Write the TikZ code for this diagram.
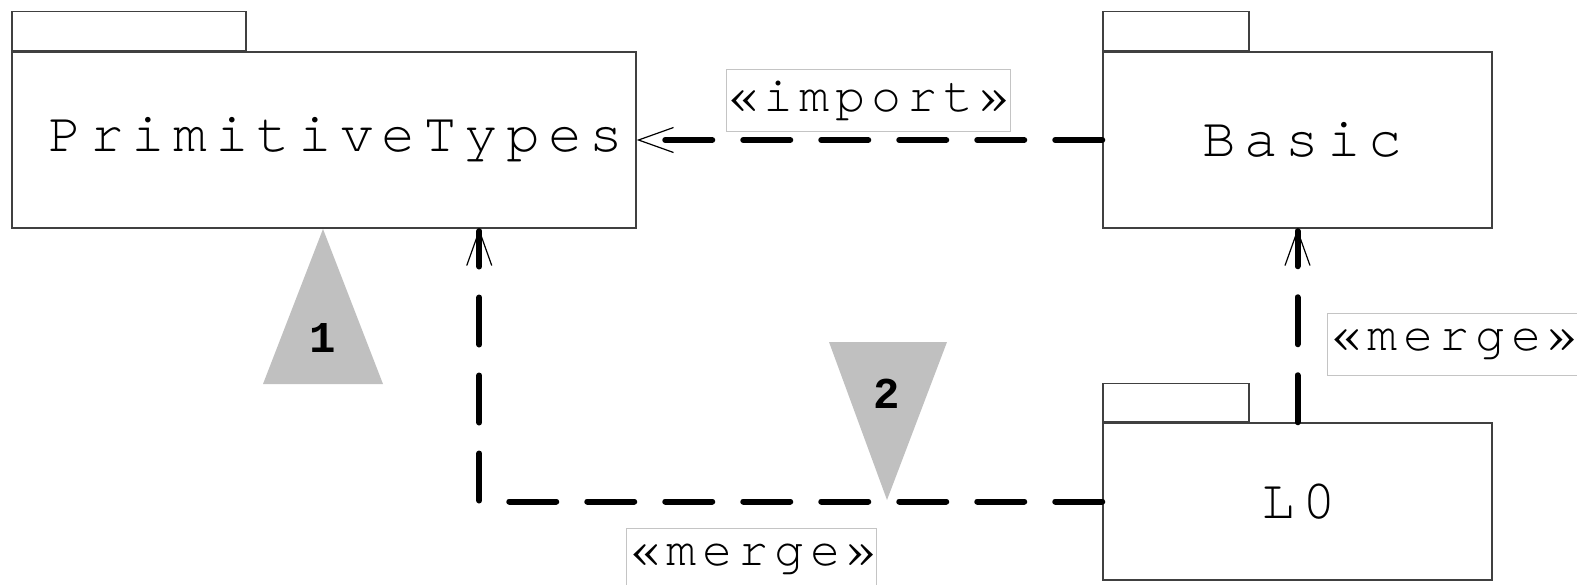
\documentclass[tikz,border=0pt]{standalone}
\usepackage{fontspec}
\usetikzlibrary{arrows.meta,calc}
\newfontfamily\numfont{Liberation Mono}
\newfontfamily\pkgfontfam{texgyrecursor-regular.otf}[LetterSpace=14.3]
\newfontfamily\lblfontfam{texgyrecursor-regular.otf}[LetterSpace=12]
\newcommand\pkgfnt{\pkgfontfam\fontsize{56}{62}\selectfont}
\newcommand\lblfnt{\lblfontfam\fontsize{50}{56}\selectfont}
\definecolor{boxline}{HTML}{404040}
\definecolor{lblline}{HTML}{C4C4C4}
\definecolor{trigray}{HTML}{C0C0C0}
\tikzset{
  pkgbody/.style={draw=boxline, line width=1.5pt, fill=white, inner sep=0pt,
    font=\pkgfnt},
  pkgtab/.style={draw=boxline, line width=1.5pt, fill=white, inner sep=0pt,
    anchor=south west, minimum height=39pt},
  deplabel/.style={draw=lblline, line width=1pt, fill=white, inner sep=0pt,
    minimum height=62pt, font=\lblfnt},
  dep/.style={line width=6pt, dash pattern=on 47pt off 31pt, line cap=round,
    -{Straight Barb[length=35pt, width=25pt, line width=1.2pt]}},
  tri/.style={fill=trigray},
  numlbl/.style={font=\numfont\bfseries\fontsize{44}{50}\selectfont, inner sep=0pt},
}
\begin{document}
\begin{tikzpicture}[x=1pt,y=1pt]
\useasboundingbox (0,0) rectangle (1577,-584);
% packages
\node[pkgbody, minimum width=624pt, minimum height=176pt] (pt) at (324,-140) {\hspace*{24pt}PrimitiveTypes};
\node[pkgtab, minimum width=234pt] (pttab) at (pt.north west) {};
\node[pkgbody, minimum width=389pt, minimum height=176pt] (basic) at (1297.5,-140) {\hspace*{10pt}Basic};
\node[pkgtab, minimum width=146pt] (basictab) at (basic.north west) {};
\node[pkgbody, minimum width=389pt, minimum height=157pt] (lzero) at (1297.5,-501.5) {\hspace*{3pt}L0};
\node[pkgtab, minimum width=146pt, minimum height=38pt] (lzerotab) at (lzero.north west) {};
% connector end on PrimitiveTypes bottom
\coordinate (m2end) at ($(pt.south west)+(468,0)$);
% connectors
\draw[dep] (basic.west) -- (pt.east);
\draw[dep] (lzero.north) -- (basic.south);
\draw[dep] (lzero.west) -| (m2end);
% labels
\node[deplabel, minimum width=284pt] (limport) at (868,-100.5) {\hspace*{2pt}«import»};
\node[deplabel, minimum width=250pt] (lmerge1) at (1452,-344.5) {\hspace*{4pt}«merge»};
\node[deplabel, minimum width=250pt] (lmerge2) at (751,-559) {\hspace*{4pt}«merge»};
% triangles
\fill[tri] (263,-384) -- (323,-229) -- (383,-384) -- cycle;
\node[numlbl] (n1) at (323,-338) {1};
\fill[tri] (829,-342) -- (947,-342) -- (887,-500) -- cycle;
\node[numlbl] (n2) at (887,-394) {2};
\end{tikzpicture}
\end{document}
